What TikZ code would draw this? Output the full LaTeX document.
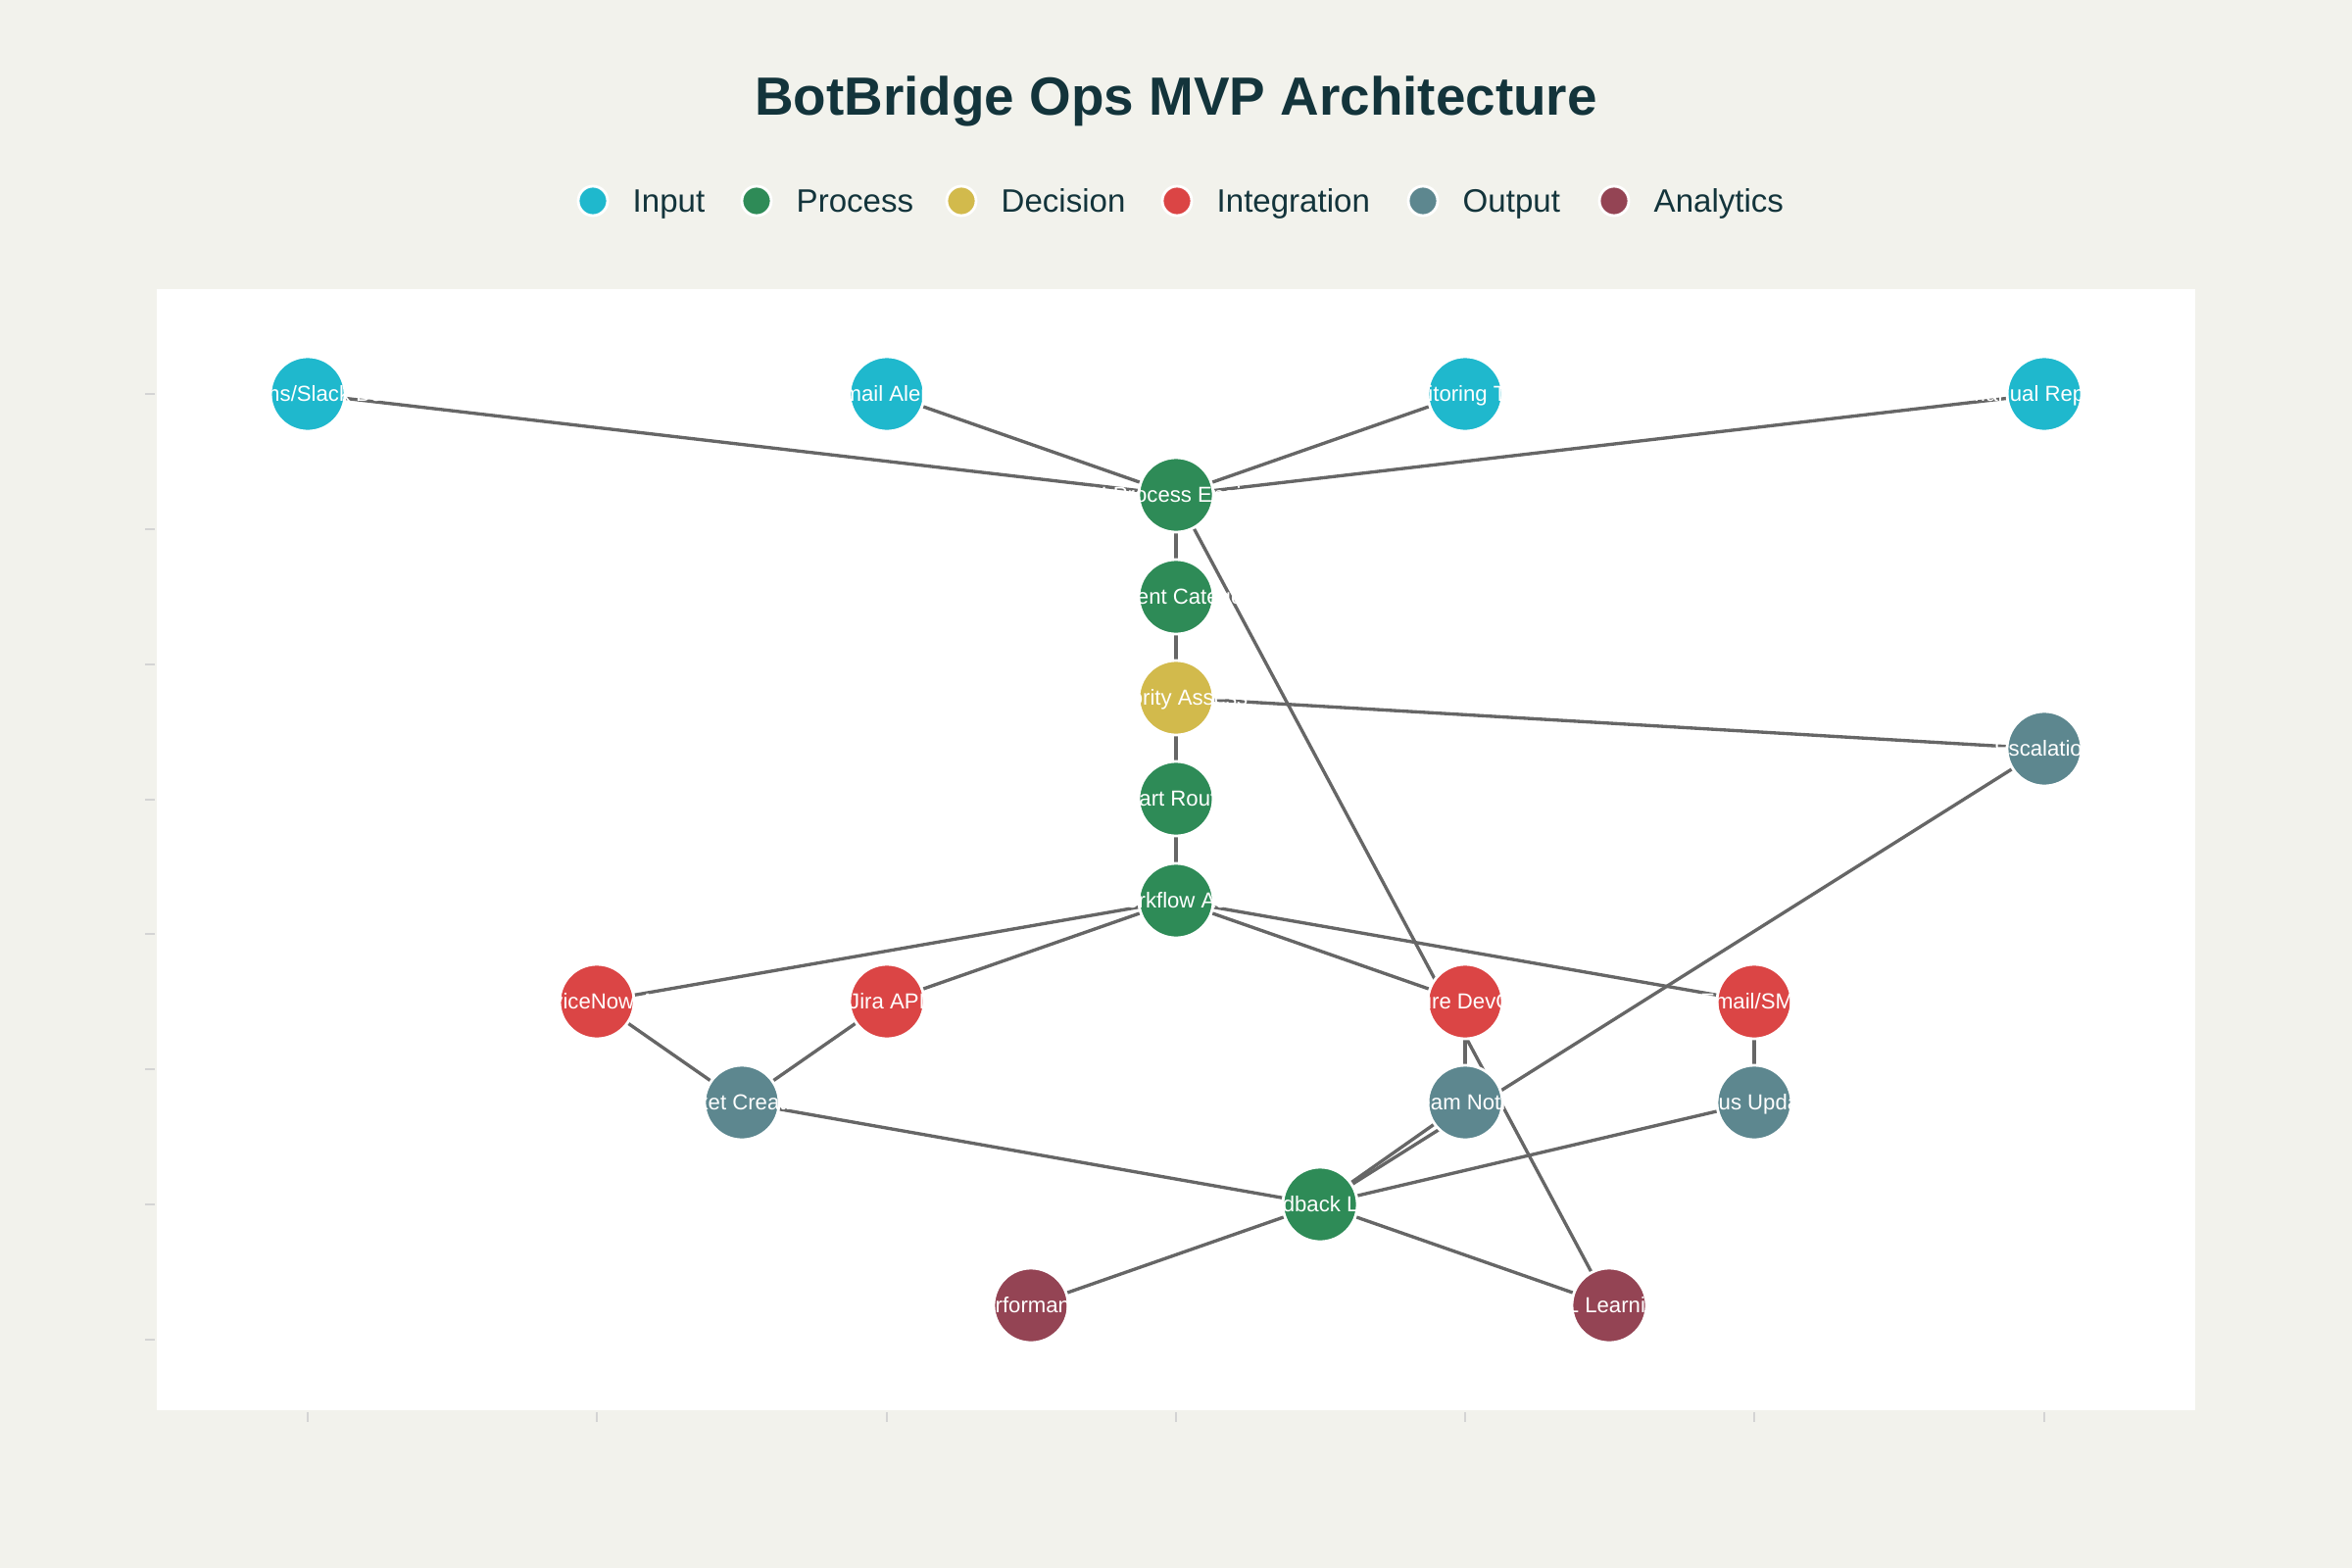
\documentclass[tikz,border=0pt]{standalone}
\usepackage{fontspec}
\setmainfont{Liberation Sans}
\pgfdeclarelayer{canvas}
\pgfdeclarelayer{wires}
\pgfsetlayers{canvas,wires,main}
\definecolor{pagecolor}{HTML}{F2F2EC}
\definecolor{titlecolor}{HTML}{13343B}
\definecolor{inputcolor}{HTML}{1FB8CD}
\definecolor{processcolor}{HTML}{2E8B57}
\definecolor{decisioncolor}{HTML}{D2BA4C}
\definecolor{integrationcolor}{HTML}{DB4545}
\definecolor{outputcolor}{HTML}{5D878F}
\definecolor{analyticscolor}{HTML}{944454}
\colorlet{linkcolor}{black!60}
\colorlet{tickcolor}{black!17}
\newcommand{\archnode}[5]{%
    \node[unit, fill=#4] (#1) at (#2,#3) {\makebox[0pt]{#5}};
}
\tikzset{
    unit/.style={circle, draw=white, line width=0.8pt, minimum size=0.76cm, inner sep=0pt,
        text=white, text height=4.5pt, text depth=0pt, font=\fontsize{6.3}{7}\selectfont},
    link/.style={draw=linkcolor, line width=0.95pt},
    keydot/.style={circle, draw=white, line width=0.8pt, minimum size=0.3cm, inner sep=0pt},
    keytext/.style={anchor=base west, text=titlecolor, inner sep=0pt, font=\fontsize{9.4}{11}\selectfont},
}
\begin{document}
\begin{tikzpicture}[x=0.01cm, y=-0.01cm]
    % --- Page, plot area and axis ticks ---
    \begin{pgfonlayer}{canvas}
        \fill[pagecolor] (0,0) rectangle (2400,1600);
        \fill[white] (160,295) rectangle (2240,1439);
        \foreach \ty in {402,540,678,816,953,1091,1229,1367}
            \draw[tickcolor, line width=0.6pt] (148,\ty) -- (158,\ty);
        \foreach \tx in {314,609,905,1200,1495,1790,2086}
            \draw[tickcolor, line width=0.6pt] (\tx,1441) -- (\tx,1451);
    \end{pgfonlayer}
    \useasboundingbox (0,0) rectangle (2400,1600);
    % --- Title and legend ---
    \node[anchor=base, text=titlecolor, font=\bfseries\fontsize{15.6}{18}\selectfont] (title) at (1200,118) {BotBridge Ops MVP Architecture};
    \foreach \kx/\kc/\kt [count=\k] in {605/inputcolor/Input, 772/processcolor/Process,
            981/decisioncolor/Decision, 1201/integrationcolor/Integration,
            1452/outputcolor/Output, 1647/analyticscolor/Analytics} {
            \node[keydot, fill=\kc] (key\k) at (\kx,205) {};
            \node[keytext] (keytext\k) at (\kx+40,217) {\kt};
        }
    % --- Inputs ---
    \archnode{teams}{314}{402}{inputcolor}{Teams/Slack Bot}
    \archnode{email}{905}{402}{inputcolor}{Email Alerts}
    \archnode{monitor}{1495}{402}{inputcolor}{Monitoring Tools}
    \archnode{manual}{2086}{402}{inputcolor}{Manual Reports}
    % --- Core pipeline ---
    \archnode{engine}{1200}{505}{processcolor}{AI Process Engine}
    \archnode{categ}{1200}{609}{processcolor}{Incident Category}
    \archnode{priority}{1200}{712}{decisioncolor}{Priority Assess}
    \archnode{escal}{2086}{764}{outputcolor}{Escalation}
    \archnode{routing}{1200}{815}{processcolor}{Smart Routing}
    \archnode{workflow}{1200}{919}{processcolor}{Workflow Auto}
    % --- Integrations and outputs ---
    \archnode{snow}{609}{1022}{integrationcolor}{ServiceNow API}
    \archnode{jira}{905}{1022}{integrationcolor}{Jira API}
    \archnode{azure}{1495}{1022}{integrationcolor}{Azure DevOps}
    \archnode{sms}{1790}{1022}{integrationcolor}{Email/SMS}
    \archnode{ticket}{757}{1125}{outputcolor}{Ticket Creation}
    \archnode{notify}{1495}{1125}{outputcolor}{Team Notify}
    \archnode{status}{1790}{1125}{outputcolor}{Status Updates}
    % --- Feedback and analytics ---
    \archnode{feedback}{1347}{1229}{processcolor}{Feedback Loop}
    \archnode{perf}{1052}{1332}{analyticscolor}{Performance}
    \archnode{mllearn}{1642}{1332}{analyticscolor}{ML Learning}
    % --- Connections ---
    \begin{pgfonlayer}{wires}
        \foreach \a/\b in {teams/engine, email/engine, monitor/engine, manual/engine,
                engine/categ, categ/priority, priority/routing, routing/workflow,
                priority/escal, engine/mllearn,
                workflow/snow, workflow/jira, workflow/azure, workflow/sms,
                snow/ticket, jira/ticket, azure/notify, sms/status,
                ticket/feedback, notify/feedback, escal/feedback, status/feedback,
                feedback/perf, feedback/mllearn}
            \draw[link] (\a.center) -- (\b.center);
    \end{pgfonlayer}
\end{tikzpicture}
\end{document}
